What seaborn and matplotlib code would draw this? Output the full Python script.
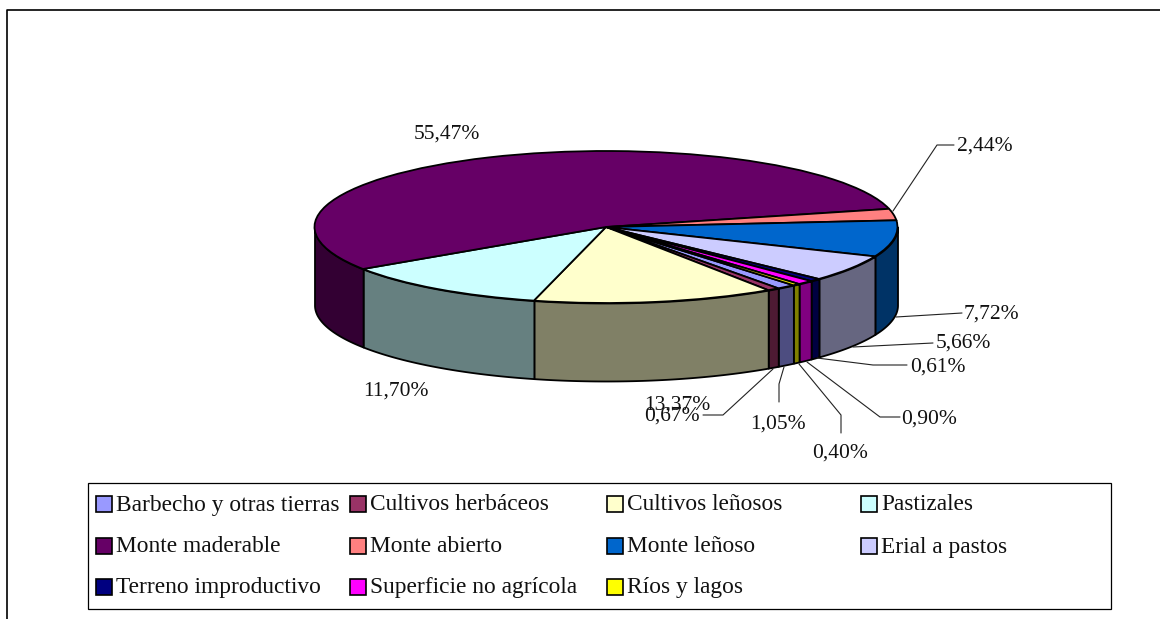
import numpy as np
import matplotlib
matplotlib.use("Agg")
import matplotlib.pyplot as plt
import matplotlib.patches as patches
import seaborn as sns

categories = ["Barbecho y otras tierras", "Cultivos herbáceos", "Cultivos leñosos", "Pastizales",
              "Monte maderable", "Monte abierto", "Monte leñoso", "Erial a pastos",
              "Terreno improductivo", "Superficie no agrícola", "Ríos y lagos"]
values = [1.05, 0.67, 13.37, 11.70, 55.47, 2.44, 7.72, 5.66, 0.61, 0.90, 0.40]
labels = ["1,05%", "0,67%", "13,37%", "11,70%", "55,47%", "2,44%", "7,72%", "5,66%", "0,61%", "0,90%", "0,40%"]
colors = ["#9999FF", "#993366", "#FFFFCC", "#CCFFFF", "#660066", "#FF8080",
          "#0066CC", "#CCCCFF", "#000080", "#FF00FF", "#FFFF00"]

W, H = 1160, 619
# pie geometry in pixels
cx, cy, rx, ry, depth = 606, 227, 291.5, 76, 78
start_angle = -50

# label centres and leader lines, in pixels
label_pos = [(778, 424), (672, 416), (677, 405), (396, 391), (447, 134), (985, 146),
             (991, 314), (963, 343), (938, 367), (929, 419), (840, 453)]
leaders = [[(784, 367), (779, 384), (779, 402)],
           [(773, 369), (723, 415), (703, 415)],
           None, None, None,
           [(893, 211), (937, 145), (954, 145)],
           [(896, 317), (962, 313)],
           [(853, 347), (933, 343)],
           [(817, 358), (873, 365), (907, 365)],
           [(807, 362), (880, 417), (900, 417)],
           [(799, 364), (841, 415), (841, 433)]]

font_size = 15.5
legend_size = 16.8
serif = ["Liberation Serif", "DejaVu Serif"]

sns.set_theme(style="white")
plt.rcParams["font.family"] = serif


def darker(c):
    return tuple(v * 0.5 for v in matplotlib.colors.to_rgb(c))


def draw_pie(fig):
    ax = fig.add_axes([0, 0, 1, 1])
    ax.pie(values, colors=colors, startangle=start_angle, counterclock=False,
           wedgeprops=dict(edgecolor="black", linewidth=1.3))
    ax.set_aspect("auto")
    ax.set_xlim((0 - cx) / rx, (W - cx) / rx)
    ax.set_ylim((cy - H) / ry, cy / ry)

    # side wall, only the front half of the rim shows
    edges = start_angle - np.cumsum([0] + values) * 3.6
    d = depth / ry
    for i in range(len(values)):
        for shift in (0, 360):
            hi = min(edges[i] + shift, 0)
            lo = max(edges[i + 1] + shift, -180)
            if hi <= lo:
                continue
            t = np.radians(np.linspace(hi, lo, 80))
            ax.fill_between(np.cos(t), np.sin(t) - d, np.sin(t), color=darker(colors[i]),
                            edgecolor="black", linewidth=1.3, zorder=0)
    ax.axis("off")


def draw_overlay(fig):
    ax = fig.add_axes([0, 0, 1, 1])
    ax.set_xlim(0, W)
    ax.set_ylim(H, 0)
    ax.axis("off")
    ax.patch.set_alpha(0)

    # outer chart frame, cut off on the right and at the bottom
    ax.plot([7, 7, W], [H, 10, 10], color="black", lw=1.2)

    for i in range(len(values)):
        if leaders[i] is not None:
            xs, ys = zip(*leaders[i])
            ax.plot(xs, ys, color="#222222", lw=0.8)
        ax.text(label_pos[i][0], label_pos[i][1], labels[i], ha="center", va="center",
                fontsize=font_size, color="#111111")

    # legend box
    ax.add_patch(patches.Rectangle((88, 483), 1023, 126, fc="white", ec="black", lw=0.9))
    col_x = [96, 350, 607, 861]
    row_y = [504, 546, 587]
    for i, name in enumerate(categories):
        x = col_x[i % 4]
        y = row_y[i // 4]
        ax.add_patch(patches.Rectangle((x, y - 8), 16, 16, fc=colors[i], ec="black", lw=1.2))
        ax.text(x + 20, y + 1, name, ha="left", va="center", fontsize=legend_size, color="#111111")


fig = plt.figure(figsize=(W / 100, H / 100), dpi=100)
draw_pie(fig)
draw_overlay(fig)
fig.savefig("out.png", dpi=100, facecolor="white")
